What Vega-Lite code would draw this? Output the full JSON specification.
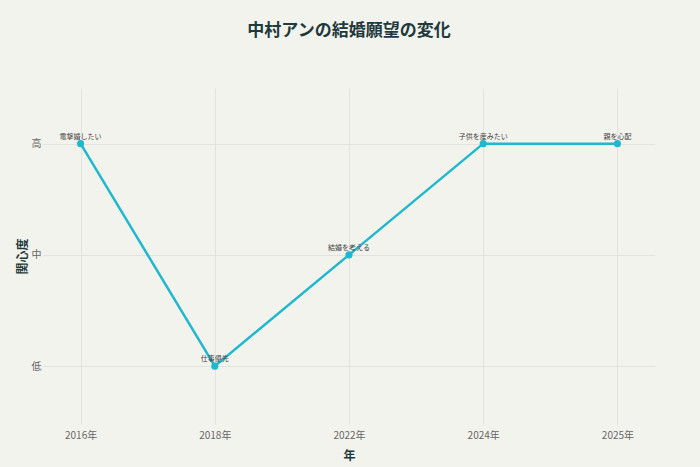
{
  "$schema": "https://vega.github.io/schema/vega-lite/v6.json",
  "width": 612,
  "height": 336,
  "autosize": {"type": "none"},
  "padding": {"left": 43, "top": 88, "right": 45, "bottom": 43},
  "background": "#f3f3ee",
  "title": {
    "text": "中村アンの結婚願望の変化",
    "fontSize": 17,
    "fontWeight": "bold",
    "color": "#1e3a3c",
    "font": "Noto Sans CJK JP",
    "anchor": "middle",
    "offset": 48
  },
  "config": {
    "view": {"stroke": null},
    "font": "Noto Sans CJK JP",
    "axis": {
      "domain": false,
      "ticks": false,
      "gridColor": "#e2e2de",
      "gridWidth": 1,
      "labelColor": "#666666",
      "labelFontSize": 10,
      "titleColor": "#1e3a3c",
      "titleFontSize": 12,
      "titleFontWeight": "bold"
    }
  },
  "data": {
    "values": [
      {"year": "2016年", "level": 3, "note": "電撃婚したい"},
      {"year": "2018年", "level": 1, "note": "仕事優先"},
      {"year": "2022年", "level": 2, "note": "結婚を考える"},
      {"year": "2024年", "level": 3, "note": "子供を産みたい"},
      {"year": "2025年", "level": 3, "note": "親を心配"}
    ]
  },
  "encoding": {
    "x": {
      "field": "year",
      "type": "ordinal",
      "sort": null,
      "scale": {"type": "point", "padding": 0.28},
      "axis": {"title": "年", "labelAngle": 0, "labelPadding": 6, "titlePadding": 10, "grid": true}
    },
    "y": {
      "field": "level",
      "type": "quantitative",
      "scale": {"domain": [0.48, 3.5], "nice": false, "zero": false},
      "axis": {
        "title": "関心度",
        "values": [1, 2, 3],
        "labelExpr": "datum.value == 3 ? '高' : datum.value == 2 ? '中' : '低'",
        "labelPadding": 2,
        "titlePadding": 2
      }
    }
  },
  "layer": [
    {"mark": {"type": "line", "color": "#1fb8cd", "strokeWidth": 2.5}},
    {"mark": {"type": "point", "filled": true, "color": "#1fb8cd", "size": 50, "opacity": 1}},
    {
      "mark": {"type": "text", "dy": -4, "baseline": "bottom", "fontSize": 7, "color": "#444444"},
      "encoding": {"text": {"field": "note"}}
    }
  ]
}
